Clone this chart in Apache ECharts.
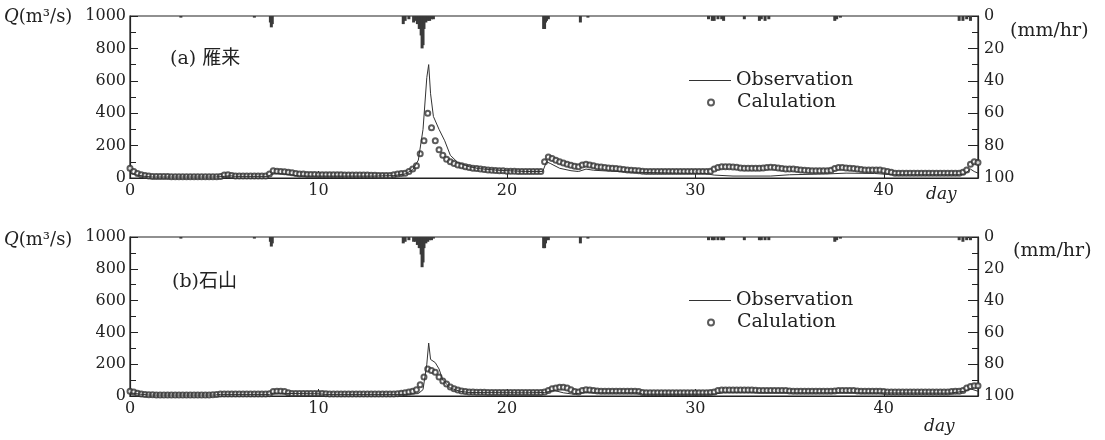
<!DOCTYPE html>
<html>
<head>
<meta charset="utf-8">
<script src="https://cdn.jsdelivr.net/npm/echarts@6/dist/echarts.min.js"></script>
<style>
  html, body { margin: 0; padding: 0; background: #fff; }
  #chart { width: 1105px; height: 440px; }
</style>
</head>
<body>
<div id="chart"></div>
<script>
  // 横軸の目盛
  var dayTicks = [0, 10, 20, 30, 40];
  var calcStep = 0.2;

  // (a) 雁来 ---- 観測流量 [day, Q]
  var obsA = [[0, 30], [0.3, 20], [0.8, 10], [1.2, 6], [4.5, 6], [5, 10], [5.3, 14], [5.6, 10], [7.3, 10], [7.5, 22],
    [7.8, 28], [8.5, 20], [9, 12], [13, 12], [14, 15], [14.6, 25], [15, 50], [15.3, 110], [15.55, 300], [15.75, 620],
    [15.85, 700], [15.95, 520], [16.1, 380], [16.4, 300], [16.7, 230], [17, 140], [17.4, 95], [18, 70], [18.5, 58],
    [19.5, 48], [21, 40], [21.9, 40], [22.1, 100], [22.3, 90], [22.8, 60], [23.4, 45], [23.8, 40], [24.2, 55],
    [24.6, 48], [25.5, 42], [27, 35], [29, 30], [30.5, 28], [31, 18], [32, 12], [34, 12], [35, 20], [37, 25],
    [38, 30], [39.5, 28], [40.5, 20], [44, 20], [44.3, 25], [44.6, 55], [44.8, 40], [45, 30]];

  // (a) 計算流量 0.2日毎
  var calcA = [
    60, 40, 28, 20, 15, 12, 10, 10, 9, 9,
    9, 8, 8, 8, 8, 8, 8, 8, 8, 8,
    8, 8, 8, 8, 9, 18, 20, 15, 12, 12,
    12, 12, 12, 12, 12, 12, 12, 25, 45, 42,
    40, 38, 36, 32, 28, 25, 24, 22, 22, 21,
    20, 20, 20, 20, 20, 20, 20, 19, 19, 19,
    18, 18, 18, 18, 17, 17, 16, 16, 16, 16,
    20, 25, 28, 30, 40, 55, 75, 150, 230, 400,
    310, 230, 175, 140, 115, 100, 90, 80, 75, 70,
    65, 60, 58, 55, 52, 50, 48, 46, 45, 44,
    42, 42, 41, 40, 40, 40, 40, 40, 40, 40,
    100, 130, 120, 110, 100, 92, 85, 78, 72, 70,
    80, 85, 80, 75, 70, 68, 65, 62, 60, 58,
    55, 52, 50, 48, 46, 44, 42, 40, 40, 40,
    40, 40, 40, 40, 40, 40, 40, 40, 40, 40,
    40, 40, 40, 40, 42, 55, 65, 70, 70, 70,
    68, 66, 62, 60, 60, 60, 60, 60, 62, 65,
    66, 65, 62, 58, 55, 55, 55, 52, 50, 48,
    46, 45, 45, 45, 45, 45, 48, 58, 65, 65,
    62, 60, 58, 55, 52, 50, 50, 50, 50, 50,
    45, 40, 35, 30, 30, 30, 30, 30, 30, 30,
    30, 30, 30, 30, 30, 30, 30, 30, 30, 30,
    30, 35, 50, 85, 100, 95
  ];

  // (a) 雨量 [day, mm/hr]
  var rainA = [[2.7, 1], [6.6, 1], [7.45, 4], [7.5, 7], [7.55, 5], [14.5, 5], [14.6, 3], [14.8, 2], [15.05, 4],
    [15.15, 3], [15.25, 5], [15.35, 8], [15.45, 12], [15.5, 20], [15.55, 18], [15.6, 8], [15.7, 4], [15.8, 3],
    [15.9, 3], [16.0, 2], [16.1, 2], [21.95, 8], [22.0, 8], [22.05, 4], [22.1, 3], [22.2, 2], [23.9, 4], [24.3, 1],
    [30.7, 2], [30.9, 3], [31.0, 3], [31.2, 2], [31.4, 2], [31.5, 3], [32.6, 2], [33.4, 3], [33.5, 2], [33.7, 3],
    [33.9, 2], [37.4, 3], [37.5, 2], [37.7, 1], [44.0, 3], [44.2, 3], [44.4, 2], [44.6, 3]];

  // (b) 石山 ---- 観測流量
  var obsB = [[0, 20], [0.5, 12], [1, 6], [4.5, 6], [4.8, 10], [7.4, 10], [7.6, 18], [8.3, 16], [10, 14], [10.4, 10],
    [14.5, 10], [15.3, 15], [15.55, 40], [15.75, 200], [15.85, 333], [15.95, 230], [16.2, 210], [16.4, 170],
    [16.6, 100], [17, 50], [17.5, 30], [18, 22], [21, 20], [22, 22], [22.5, 35], [23, 20], [23.5, 12], [24, 20],
    [24.5, 20], [27, 20], [27.2, 12], [31, 12], [31.5, 20], [35, 20], [38, 20], [43.5, 18], [44.3, 30], [44.6, 45],
    [45, 30]];

  var calcB = [
    30, 25, 18, 12, 10, 8, 8, 7, 7, 7,
    7, 7, 7, 7, 7, 7, 7, 7, 7, 7,
    7, 7, 8, 10, 12, 12, 12, 12, 12, 12,
    12, 12, 12, 12, 12, 12, 12, 14, 28, 30,
    30, 28, 20, 16, 16, 16, 16, 16, 16, 16,
    16, 15, 14, 12, 12, 12, 12, 12, 12, 12,
    12, 12, 12, 12, 12, 12, 12, 12, 12, 12,
    12, 14, 18, 20, 25, 30, 40, 70, 120, 170,
    160, 150, 120, 95, 75, 57, 45, 38, 32, 28,
    25, 25, 24, 24, 23, 22, 22, 22, 22, 22,
    22, 22, 22, 22, 22, 22, 22, 22, 22, 22,
    25, 35, 45, 50, 55, 55, 50, 40, 28, 25,
    35, 40, 38, 35, 32, 30, 30, 30, 30, 30,
    30, 30, 30, 30, 30, 28, 22, 20, 20, 20,
    20, 20, 20, 20, 20, 20, 20, 20, 20, 20,
    20, 20, 20, 20, 22, 25, 35, 38, 38, 38,
    38, 38, 38, 38, 38, 38, 36, 35, 35, 35,
    35, 35, 35, 35, 35, 32, 30, 30, 30, 30,
    30, 30, 30, 30, 30, 30, 30, 32, 35, 35,
    35, 35, 35, 32, 30, 30, 30, 30, 30, 30,
    28, 25, 25, 25, 25, 25, 25, 25, 25, 25,
    25, 25, 25, 25, 25, 25, 25, 25, 28, 30,
    30, 35, 50, 60, 65, 65
  ];

  var rainB = [[2.7, 1], [6.6, 1], [7.45, 3], [7.5, 6], [7.55, 4], [14.5, 4], [14.6, 3], [14.8, 2], [15.05, 3],
    [15.15, 3], [15.25, 5], [15.35, 7], [15.45, 11], [15.5, 19], [15.55, 16], [15.6, 7], [15.7, 4], [15.8, 3],
    [15.9, 2], [16.0, 2], [16.1, 1], [21.95, 7], [22.0, 7], [22.05, 4], [22.1, 2], [22.2, 2], [23.9, 4], [24.3, 1],
    [30.7, 2], [30.9, 2], [31.0, 2], [31.2, 2], [31.4, 2], [31.5, 2], [32.6, 2], [33.4, 2], [33.5, 2], [33.7, 2],
    [33.9, 2], [37.4, 3], [37.5, 2], [37.7, 1], [44.0, 2], [44.2, 3], [44.4, 2], [44.6, 2]];

  var serif = 'DejaVu Serif';
  var ink = '#222';

  function toPairs(vals) {
    return vals.map(function (v, i) { return [+(i * calcStep).toFixed(2), v]; });
  }

  function makeX(idx) {
    return {
      gridIndex: idx, type: 'value', min: 0, max: 45,
      axisLine: {lineStyle: {color: ink, width: 1.2}},
      axisTick: {inside: true, length: 7, lineStyle: {color: ink}, customValues: dayTicks.slice(1)},
      axisLabel: {color: ink, fontFamily: serif, fontSize: 16, margin: 5, customValues: dayTicks},
      splitLine: {show: false}
    };
  }

  function makeQ(idx) {
    return {
      gridIndex: idx, type: 'value', min: 0, max: 1000, interval: 200,
      axisLine: {show: true, lineStyle: {color: ink, width: 1.2}},
      axisTick: {inside: true, length: 8, lineStyle: {color: ink}},
      minorTick: {show: true, splitNumber: 2, length: 6, lineStyle: {color: ink}},
      axisLabel: {color: ink, fontFamily: serif, fontSize: 16, margin: 4, showMaxLabel: true,
        formatter: function (v) { return String(v); }},
      splitLine: {show: false}
    };
  }

  function makeRain(idx) {
    return {
      gridIndex: idx, type: 'value', position: 'right', inverse: true, min: 0, max: 100, interval: 20,
      axisLine: {show: true, lineStyle: {color: ink, width: 1.2}},
      axisTick: {inside: true, length: 10, lineStyle: {color: ink}},
      minorTick: {show: true, splitNumber: 2, length: 6, lineStyle: {color: ink}},
      axisLabel: {color: ink, fontFamily: serif, fontSize: 16, margin: 6},
      splitLine: {show: false}
    };
  }

  // 凡例は線と丸で別々に置く
  function makeLegend(item, left, top, w, h, pad) {
    return {
      orient: 'vertical', left: left, top: top, itemWidth: w, itemHeight: h,
      textStyle: {fontFamily: serif, fontSize: 19, color: ink, padding: [0, 0, 0, pad]},
      data: [item], selectedMode: false
    };
  }

  function text(x, y, str, font) {
    return {type: 'text', left: x, top: y, style: {text: str, fill: ink, font: font || '19px "DejaVu Serif", "Noto Sans CJK JP"'}};
  }

  function qLabel(y) {
    return {type: 'text', left: 4, top: y, style: {
      text: '{q|Q}(m³/s)', fill: ink, font: '18px "DejaVu Serif"',
      rich: {q: {fontStyle: 'italic', fontFamily: serif, fontSize: 18}}}};
  }

  var obsItem = {name: 'Observation', icon: 'rect', itemStyle: {color: '#333'}};

  var myChart = echarts.init(document.getElementById('chart'));

  myChart.setOption({
    animation: false,
    backgroundColor: '#fff',
    grid: [
      {left: 130, right: 127, top: 16, height: 162, show: true, borderColor: ink, borderWidth: 1.2},
      {left: 130, right: 127, top: 237, height: 159, show: true, borderColor: ink, borderWidth: 1.2}
    ],
    xAxis: [makeX(0), makeX(1)],
    yAxis: [makeQ(0), makeRain(0), makeQ(1), makeRain(1)],
    legend: [
      makeLegend(obsItem, 684, 66, 42, 1, 0),
      makeLegend('Calulation', 702, 88, 6, 6, 18),
      makeLegend(obsItem, 684, 286, 42, 1, 0),
      makeLegend('Calulation', 702, 308, 6, 6, 18)
    ],
    series: [
      {type: 'bar', xAxisIndex: 0, yAxisIndex: 1, data: rainA, barWidth: 3, itemStyle: {color: '#3a3a3a'}},
      {name: 'Observation', type: 'line', xAxisIndex: 0, yAxisIndex: 0, data: obsA, symbol: 'none',
        lineStyle: {color: '#333', width: 1}, itemStyle: {color: '#333'}},
      {name: 'Calulation', type: 'scatter', xAxisIndex: 0, yAxisIndex: 0, data: toPairs(calcA),
        symbol: 'emptyCircle', symbolSize: 5, itemStyle: {color: '#333', borderWidth: 1}},
      {type: 'bar', xAxisIndex: 1, yAxisIndex: 3, data: rainB, barWidth: 3, itemStyle: {color: '#3a3a3a'}},
      {name: 'Observation', type: 'line', xAxisIndex: 1, yAxisIndex: 2, data: obsB, symbol: 'none',
        lineStyle: {color: '#333', width: 1}, itemStyle: {color: '#333'}},
      {name: 'Calulation', type: 'scatter', xAxisIndex: 1, yAxisIndex: 2, data: toPairs(calcB),
        symbol: 'emptyCircle', symbolSize: 5, itemStyle: {color: '#333', borderWidth: 1}}
    ],
    graphic: [
      qLabel(8),
      qLabel(231),
      text(1010, 22, '(mm/hr)'),
      text(1013, 242, '(mm/hr)'),
      text(170, 50, '(a) 雁来'),
      text(172, 273, '(b)石山'),
      text(926, 186, 'day', 'italic 17px "DejaVu Serif"'),
      text(924, 418, 'day', 'italic 17px "DejaVu Serif"')
    ]
  });
</script>
</body>
</html>
